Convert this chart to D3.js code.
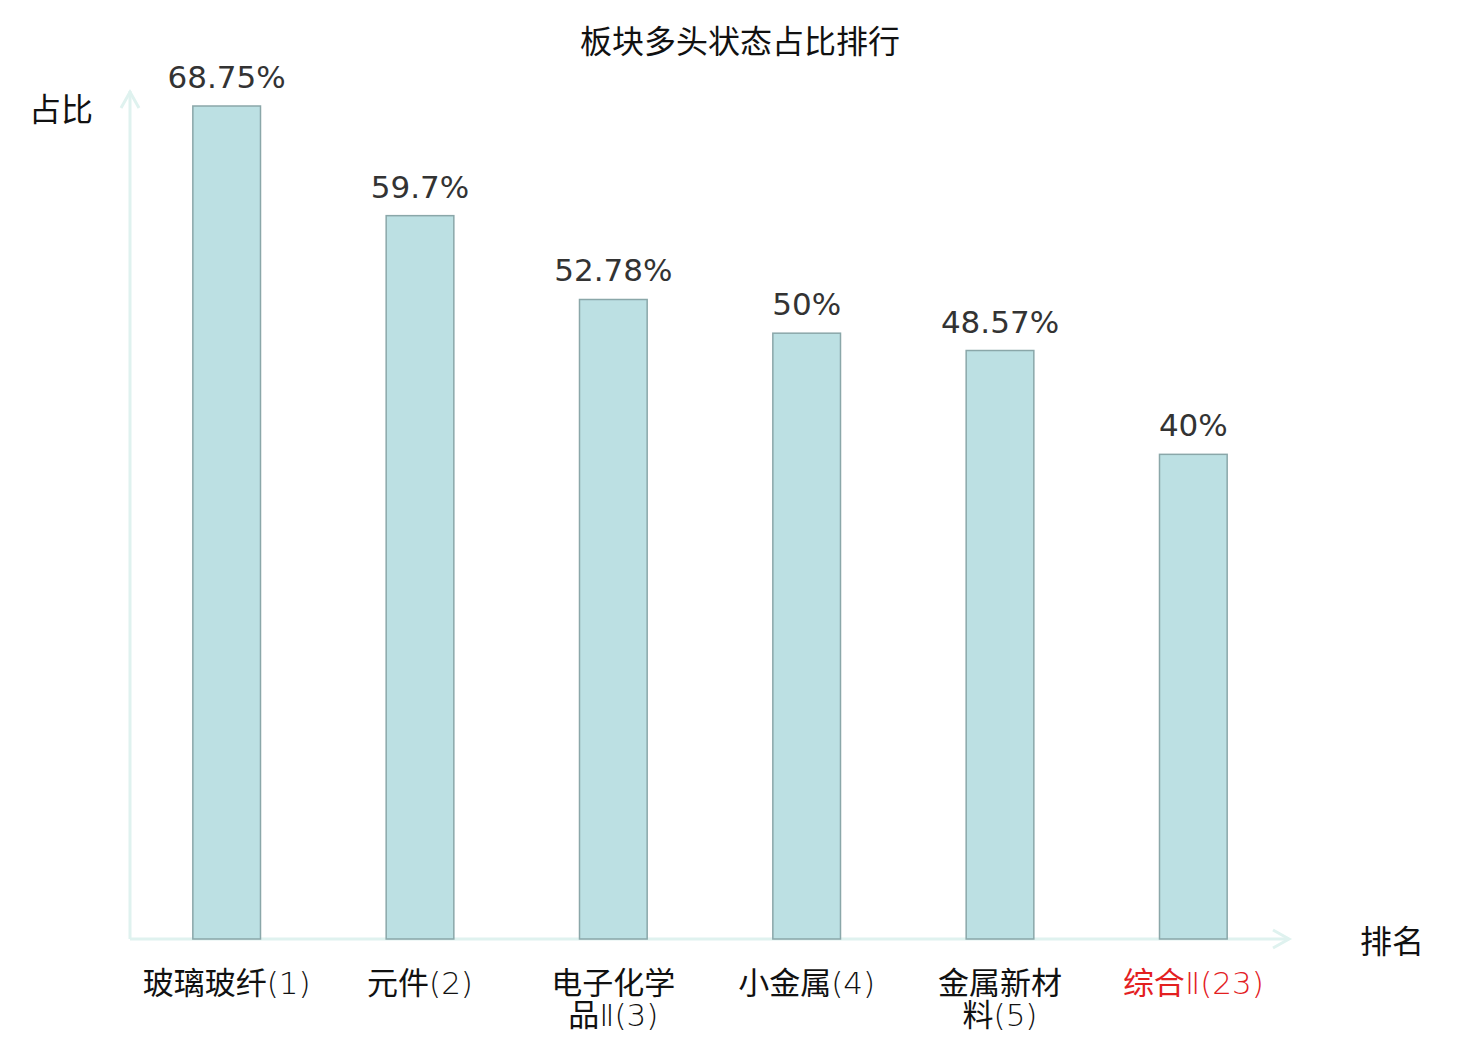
<!DOCTYPE html>
<html><head><meta charset="utf-8">
<script src="https://cdn.jsdelivr.net/npm/d3@7/dist/d3.min.js"></script>
<style>
body{margin:0;background:#fff;}
text{font-family:"DejaVu Sans","Noto Sans CJK SC",sans-serif;}
text.cjk{font-family:"Noto Sans CJK SC",sans-serif;}
tspan.lat{font-family:"DejaVu Sans",sans-serif;font-weight:200;}
tspan.han{font-family:"Noto Sans CJK SC",sans-serif;font-weight:400;}
</style></head>
<body><svg id="c" width="1480" height="1040"></svg>
<script>
const title = "板块多头状态占比排行";
const categories = ["玻璃玻纤(1)", "元件(2)", "电子化学品Ⅱ(3)", "小金属(4)", "金属新材料(5)", "综合Ⅱ(23)"];
const values = [68.75, 59.7, 52.78, 50, 48.57, 40];
const valueLabels = ["68.75%", "59.7%", "52.78%", "50%", "48.57%", "40%"];
const highlight = [false, false, false, false, false, true];
const yAxisName = "占比";
const xAxisName = "排名";

const svg = d3.select("#c");
const x0 = 130, x1 = 1290, yBase = 939, yTop = 106;
const x = d3.scaleBand().domain(categories).range([x0, x1]).paddingInner(0.65).paddingOuter(0.325);
const y = d3.scaleLinear().domain([0, d3.max(values)]).range([yBase, yTop]);
const axisColor = "#dff2ef";

// title
svg.append("text").attr("class", "cjk").attr("x", 740).attr("y", 53).attr("text-anchor", "middle")
  .attr("font-size", 32).attr("fill", "#111").text(title);

// axes
svg.append("line").attr("x1", x0).attr("y1", yBase).attr("x2", x0).attr("y2", 91)
  .attr("stroke", axisColor).attr("stroke-width", 3);
svg.append("path").attr("d", `M${x0-9},${108} L${x0},${92} L${x0+9},${108}`)
  .attr("fill", "none").attr("stroke", axisColor).attr("stroke-width", 3);
svg.append("line").attr("x1", x0).attr("y1", yBase).attr("x2", x1-1).attr("y2", yBase)
  .attr("stroke", axisColor).attr("stroke-width", 3);
svg.append("path").attr("d", `M${x1-17},${yBase-9} L${x1-1},${yBase} L${x1-17},${yBase+9}`)
  .attr("fill", "none").attr("stroke", axisColor).attr("stroke-width", 3);

svg.append("text").attr("class", "cjk").attr("x", 93).attr("y", 121).attr("text-anchor", "end")
  .attr("font-size", 32).attr("fill", "#111").text(yAxisName);
svg.append("text").attr("class", "cjk").attr("x", 1360).attr("y", 953)
  .attr("font-size", 32).attr("fill", "#111").text(xAxisName);

// bars
const g = svg.append("g");
g.selectAll("rect").data(values).join("rect")
  .attr("x", (d, i) => x(categories[i]))
  .attr("y", d => y(d))
  .attr("width", x.bandwidth())
  .attr("height", d => yBase - y(d))
  .attr("fill", "#bce0e3").attr("stroke", "#8aa7a9").attr("stroke-width", 1.5);

g.selectAll("text.v").data(values).join("text").attr("class", "v")
  .attr("x", (d, i) => x(categories[i]) + x.bandwidth() / 2)
  .attr("y", d => y(d) - 18)
  .attr("text-anchor", "middle").attr("font-size", 31).attr("fill", "#333")
  .text((d, i) => valueLabels[i]);

// category labels
const runs = s => s.match(/[\u4e00-\u9fff]+|[^\u4e00-\u9fff]+/g);
categories.forEach((c, i) => {
  const lines = c.length > 7 ? [c.slice(0, 4), c.slice(4)] : [c];
  const cx = x(c) + x.bandwidth() / 2;
  const t = svg.append("text")
    .attr("x", cx).attr("y", 994)
    .attr("text-anchor", "middle").attr("font-size", 31)
    .attr("fill", highlight[i] ? "#e3201f" : "#111");
  lines.forEach((l, k) => {
    const ln = t.append("tspan").attr("x", cx).attr("dy", k ? 32 : 0);
    runs(l).forEach(r => {
      ln.append("tspan").attr("class", /[\u4e00-\u9fff]/.test(r) ? "han" : "lat").text(r);
    });
  });
});
</script></body></html>
